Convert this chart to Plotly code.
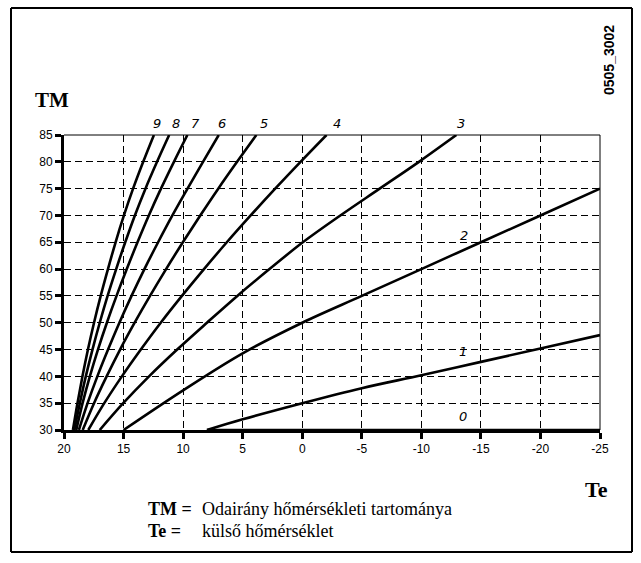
import plotly.graph_objects as go

# ---- data ----
tm_levels = [30, 35, 40, 45, 50, 55, 60, 65, 70, 75, 80, 85]
te_curve9 = [19.25, 18.87, 18.45, 17.99, 17.48, 16.92, 16.31, 15.67, 14.97, 14.2, 13.35, 12.45]
te_curve8 = [19.13, 18.67, 18.17, 17.61, 17.0, 16.34, 15.62, 14.86, 14.05, 13.16, 12.19, 11.17]
te_curve7 = [18.97, 18.44, 17.83, 17.15, 16.4, 15.59, 14.73, 13.83, 12.88, 11.86, 10.77, 9.64]
te_curve6 = [18.75, 18.02, 17.2, 16.3, 15.35, 14.33, 13.25, 12.1, 10.9, 9.63, 8.33, 7.01]
te_curve5 = [18.43, 17.48, 16.42, 15.29, 14.07, 12.78, 11.43, 10.02, 8.56, 7.05, 5.47, 3.85]
te_curve4 = [17.96, 16.62, 15.14, 13.55, 11.88, 10.1, 8.25, 6.33, 4.33, 2.27, 0.14, -2.04]
te_curve3 = [17.0, 15.03, 12.86, 10.5, 8.0, 5.45, 2.75, -0.05, -3.2, -6.5, -9.8, -12.94]

te_curve2 = [15, 10, 5, 0, -5, -10, -15, -20, -25]
tm_curve2 = [30, 37.4, 44.3, 50, 55, 60, 65, 70, 75]
te_curve1 = [8, 5, 0, -5, -10, -15, -20, -25]
tm_curve1 = [30, 32, 35, 37.8, 40.2, 42.7, 45.2, 47.7]
te_curve0 = [8, -25]
tm_curve0 = [30, 30]

curve_names = ["9", "8", "7", "6", "5", "4", "3"]
top_label_te = [12.22, 10.63, 8.93, 6.7, 3.2, -2.93, -13.36]
side_labels = ["2", "1", "0"]
side_label_te = [-13.6, -13.5, -13.5]
side_label_tm = [66.3, 44.6, 32.5]

x_ticks = [20, 15, 10, 5, 0, -5, -10, -15, -20, -25]
x_tick_text = ["20", "15", "10", "5", "0", "-5", "-10", "-15", "-20", "-25"]
y_ticks = [30, 35, 40, 45, 50, 55, 60, 65, 70, 75, 80, 85]

# ---- figure ----
W, H = 641, 563
L, R, T, B = 64, 41, 135, 133
pw, ph = W - L - R, H - T - B

def px2paper(px, py):
    return (px - L) / pw, (H - B - py) / ph

fig = go.Figure()
line_style = dict(color="black", width=2.6)
for te in [te_curve9, te_curve8, te_curve7, te_curve6, te_curve5, te_curve4, te_curve3]:
    fig.add_trace(go.Scatter(x=te, y=tm_levels, mode="lines",
                             line=dict(shape="spline", smoothing=1.0, **line_style), hoverinfo="skip"))
for te, tm in [(te_curve2, tm_curve2), (te_curve1, tm_curve1), (te_curve0, tm_curve0)]:
    fig.add_trace(go.Scatter(x=te, y=tm, mode="lines",
                             line=dict(shape="spline", smoothing=1.0, **line_style), hoverinfo="skip"))

label_font = dict(family="DejaVu Sans", size=13, color="black")
for name, te in zip(curve_names, top_label_te):
    fig.add_annotation(x=te, y=1.0, xref="x", yref="paper", yshift=12, yanchor="middle",
                       xanchor="center", text="<i>" + name + "</i>", showarrow=False, font=label_font)
for name, te, tm in zip(side_labels, side_label_te, side_label_tm):
    fig.add_annotation(x=te, y=tm, xref="x", yref="y", text="<i>" + name + "</i>",
                       xanchor="center", yanchor="middle", showarrow=False, font=label_font)

# outer frame
fx0, fy0 = px2paper(11, 552)
fx1, fy1 = px2paper(632, 8)
for x0, y0, x1, y1 in [(fx0, fy0, fx1, fy0), (fx0, fy1, fx1, fy1), (fx0, fy0, fx0, fy1), (fx1, fy0, fx1, fy1)]:
    fig.add_shape(type="line", xref="paper", yref="paper", x0=x0, y0=y0, x1=x1, y1=y1,
                  line=dict(color="black", width=2))
# thin top/right borders of the plot
fig.add_shape(type="line", xref="paper", yref="paper", x0=0, y0=1, x1=1, y1=1, line=dict(color="black", width=1))
fig.add_shape(type="line", xref="paper", yref="paper", x0=1, y0=0, x1=1, y1=1, line=dict(color="black", width=1))

serif = "Liberation Serif"
def add_text(px, py, text, size, anchor="left", family=serif, angle=0):
    x, y = px2paper(px, py)
    fig.add_annotation(x=x, y=y, xref="paper", yref="paper", text=text, showarrow=False,
                       xanchor=anchor, yanchor="middle", textangle=angle,
                       font=dict(family=family, size=size, color="black"))

add_text(33, 100, "<b>TM</b>", 21)
add_text(583, 490, "<b>Te</b>", 22)
add_text(146, 509, "<b>TM =</b>", 18)
add_text(200, 509, "Odairány hőmérsékleti tartománya", 18)
add_text(146, 531, "<b>Te =</b>", 18)
add_text(200, 531, "külső hőmérséklet", 18)
add_text(609, 60, "<b>0505_3002</b>", 14, anchor="center", family="Liberation Sans", angle=-90)

axis_common = dict(showgrid=True, gridcolor="black", gridwidth=1, griddash="7px,4px",
                   showline=True, linecolor="black", linewidth=3, ticks="outside",
                   ticklen=6, tickwidth=3, tickcolor="black", zeroline=False,
                   tickfont=dict(family="Liberation Sans", size=12, color="black"))
fig.update_xaxes(range=[20, -25], tickvals=x_ticks, ticktext=x_tick_text, **axis_common)
fig.update_yaxes(range=[30, 85], tickvals=y_ticks, **axis_common)

fig.update_layout(width=W, height=H, margin=dict(l=L, r=R, t=T, b=B),
                  plot_bgcolor="white", paper_bgcolor="white", showlegend=False)
fig.write_html("out.html", config={"displayModeBar": False},
               post_script="document.body.style.margin='0';document.body.style.overflow='hidden';")
